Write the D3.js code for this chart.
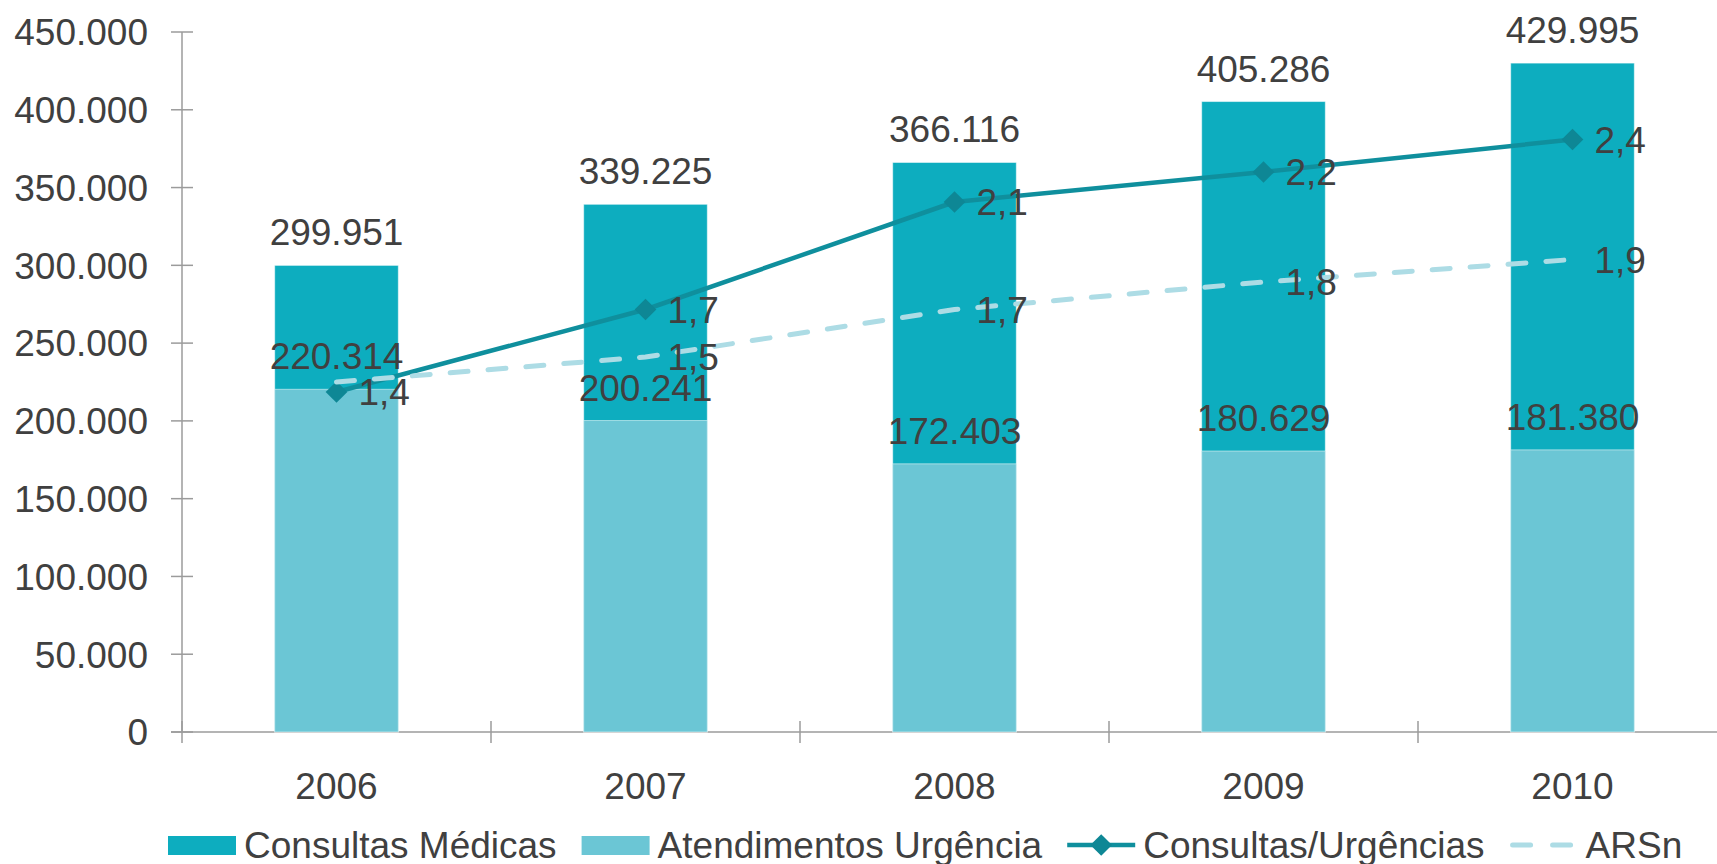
<!DOCTYPE html>
<html>
<head>
<meta charset="utf-8">
<script src="https://cdn.jsdelivr.net/npm/d3@7"></script>
<style>
    body {
        margin: 0;
        background: #fff;
    }
    svg {
        display: block;
        font-family: Arial, "Liberation Sans", sans-serif;
    }
    .label {
        fill: #404040;
        font-size: 37px;
    }
</style>
</head>
<body>
<svg id="chart" width="1717" height="864"></svg>
<script>
    // data
    const years = ["2006", "2007", "2008", "2009", "2010"];
    const consultas = [299951, 339225, 366116, 405286, 429995];
    const urgencias = [220314, 200241, 172403, 180629, 181380];
    const ratio = [1.36, 1.69, 2.12, 2.24, 2.37];
    const arsn = [1.40, 1.50, 1.69, 1.80, 1.89];
    const arsnLabelShown = [false, true, true, true, true];
    const yTicks = [0, 50000, 100000, 150000, 200000, 250000, 300000, 350000, 400000, 450000];
    const legendItems = [
        {name: "Consultas Médicas", type: "bar", color: "#0DADBF"},
        {name: "Atendimentos Urgência", type: "bar", color: "#6BC6D5"},
        {name: "Consultas/Urgências", type: "line", color: "#0F8F9D"},
        {name: "ARSn", type: "dash", color: "#ADDCE5"}
    ];

    const COLORS = {
        consultas: "#0DADBF",
        urgencias: "#6BC6D5",
        ratio: "#0F8F9D",
        marker: "#0E8795",
        arsn: "#ADDCE5",
        axis: "#9B9B9B"
    };

    const svg = d3.select("#chart");

    const x = d3.scaleBand()
        .domain(years)
        .range([182, 1727])
        .paddingInner(0.6)
        .paddingOuter(0.3);
    const y = d3.scaleLinear().domain([0, 450000]).range([732, 32]);
    const y2 = d3.scaleLinear().domain([0, 2.8]).range([732, 32]);

    const thousands = d3.formatLocale({decimal: ",", thousands: ".", grouping: [3], currency: ["", "€"]});
    const fmtInt = thousands.format(",d");
    const fmtDec = thousands.format(".1f");
    const cx = d => x(d) + x.bandwidth() / 2;

    // axes
    const yAxis = svg.append("g").attr("transform", "translate(182,0)");
    yAxis.append("line")
        .attr("y1", y(450000)).attr("y2", y(0))
        .attr("stroke", COLORS.axis).attr("stroke-width", 1.5);
    yAxis.selectAll(".ytick")
        .data(yTicks)
        .join("line")
        .attr("class", "ytick")
        .attr("x1", -11).attr("x2", 11)
        .attr("y1", y).attr("y2", y)
        .attr("stroke", COLORS.axis).attr("stroke-width", 1.5);
    yAxis.selectAll(".ylabel")
        .data(yTicks)
        .join("text")
        .attr("class", "label ylabel")
        .attr("x", -34)
        .attr("y", y)
        .attr("dy", "0.36em")
        .attr("text-anchor", "end")
        .text(fmtInt);

    const xAxis = svg.append("g");
    xAxis.append("line")
        .attr("x1", 171).attr("x2", 1717)
        .attr("y1", y(0)).attr("y2", y(0))
        .attr("stroke", COLORS.axis).attr("stroke-width", 1.5);
    xAxis.selectAll(".xtick")
        .data(years)
        .join("line")
        .attr("class", "xtick")
        .attr("x1", d => x(d) - x.step() * x.paddingOuter())
        .attr("x2", d => x(d) - x.step() * x.paddingOuter())
        .attr("y1", y(0) - 11).attr("y2", y(0) + 11)
        .attr("stroke", COLORS.axis).attr("stroke-width", 1.5);
    xAxis.selectAll(".xlabel")
        .data(years)
        .join("text")
        .attr("class", "label xlabel")
        .attr("x", cx)
        .attr("y", 799)
        .attr("text-anchor", "middle")
        .text(d => d);

    // bars (overlapped, not stacked)
    svg.append("g").selectAll("rect")
        .data(years)
        .join("rect")
        .attr("x", d => x(d))
        .attr("width", x.bandwidth())
        .attr("y", (d, i) => y(consultas[i]))
        .attr("height", (d, i) => y(0) - y(consultas[i]))
        .attr("fill", COLORS.consultas)
        .attr("stroke", "#ffffff").attr("stroke-opacity", 0.5).attr("stroke-width", 1);

    svg.append("g").selectAll("rect")
        .data(years)
        .join("rect")
        .attr("x", d => x(d))
        .attr("width", x.bandwidth())
        .attr("y", (d, i) => y(urgencias[i]))
        .attr("height", (d, i) => y(0) - y(urgencias[i]))
        .attr("fill", COLORS.urgencias)
        .attr("stroke", "#ffffff").attr("stroke-opacity", 0.5).attr("stroke-width", 1);

    // lines
    const ratioLine = d3.line().x((d, i) => cx(years[i])).y(d => y2(d));

    svg.append("path")
        .datum(ratio)
        .attr("d", ratioLine)
        .attr("fill", "none")
        .attr("stroke", COLORS.ratio)
        .attr("stroke-width", 4.5)
        .attr("stroke-linejoin", "round");

    svg.append("g").selectAll("path")
        .data(ratio)
        .join("path")
        .attr("d", d3.symbol(d3.symbolDiamond2, 300))
        .attr("transform", (d, i) => `translate(${cx(years[i])},${y2(d)})`)
        .attr("fill", COLORS.marker);

    svg.append("path")
        .datum(arsn)
        .attr("d", ratioLine)
        .attr("fill", "none")
        .attr("stroke", COLORS.arsn)
        .attr("stroke-width", 5)
        .attr("stroke-linecap", "round")
        .attr("stroke-dasharray", "18,20");

    // data labels
    const labels = svg.append("g");
    labels.selectAll(".total")
        .data(years)
        .join("text")
        .attr("class", "label total")
        .attr("x", cx)
        .attr("y", (d, i) => y(consultas[i]) - 20)
        .attr("text-anchor", "middle")
        .text((d, i) => fmtInt(consultas[i]));
    labels.selectAll(".urg")
        .data(years)
        .join("text")
        .attr("class", "label urg")
        .attr("x", cx)
        .attr("y", (d, i) => y(urgencias[i]) - 20)
        .attr("text-anchor", "middle")
        .text((d, i) => fmtInt(urgencias[i]));
    labels.selectAll(".ratio")
        .data(ratio)
        .join("text")
        .attr("class", "label ratio")
        .attr("x", (d, i) => cx(years[i]) + 22)
        .attr("y", d => y2(d))
        .attr("dy", "0.36em")
        .text(fmtDec);
    labels.selectAll(".arsn")
        .data(arsn.filter((d, i) => arsnLabelShown[i]).map(d => d))
        .join("text")
        .attr("class", "label arsn")
        .attr("x", (d, i) => cx(years[arsnLabelShown.indexOf(true) + i]) + 22)
        .attr("y", d => y2(d))
        .attr("dy", "0.36em")
        .text(fmtDec);

    // legend
    const legend = svg.append("g").attr("transform", "translate(168,845)");
    let lx = 0;
    legendItems.forEach(item => {
        const g = legend.append("g").attr("transform", `translate(${lx},0)`);
        if (item.type === "bar") {
            g.append("rect")
                .attr("x", 0).attr("y", -9)
                .attr("width", 68).attr("height", 19)
                .attr("fill", item.color);
        } else if (item.type === "line") {
            g.append("line")
                .attr("x1", 0).attr("x2", 68)
                .attr("stroke", item.color).attr("stroke-width", 4.5);
            g.append("path")
                .attr("d", d3.symbol(d3.symbolDiamond2, 300))
                .attr("transform", "translate(34,0)")
                .attr("fill", COLORS.marker);
        } else {
            g.append("line")
                .attr("x1", 3).attr("x2", 65)
                .attr("stroke", item.color).attr("stroke-width", 5)
                .attr("stroke-linecap", "round")
                .attr("stroke-dasharray", "18,22");
        }
        const t = g.append("text")
            .attr("class", "label")
            .attr("x", 76)
            .attr("dy", "0.36em")
            .text(item.name);
        lx += 76 + t.node().getComputedTextLength() + 25;
    });
</script>
</body>
</html>
